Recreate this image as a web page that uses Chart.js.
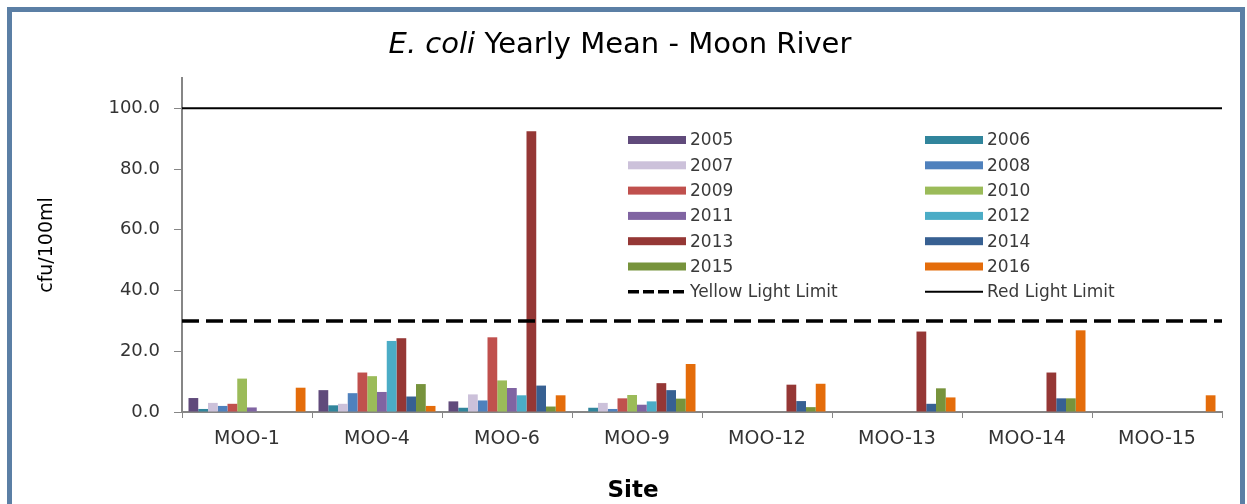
<!DOCTYPE html>
<html>
<head>
<meta charset="utf-8">
<script src="https://cdn.jsdelivr.net/npm/chart.js@4.4.1/dist/chart.umd.min.js"></script>
<style>
  html, body { margin: 0; padding: 0; background: #fff; }
  #wrap { position: relative; width: 1247px; height: 504px; overflow: hidden; }
  #frame { position: absolute; left: 7px; top: 7px; width: 1228px; height: 520px;
           border: 5px solid #5b7fa5; border-bottom: none; }
  .txt { position: absolute; text-align: center; font-family: "DejaVu Sans", sans-serif; color: #000; }
  #title { left: 0; width: 1240px; top: 28px; line-height: 30px; font-size: 29px; }
  #xtitle { left: 533px; width: 200px; top: 476px; line-height: 26px; font-size: 23px; font-weight: bold; }
  canvas { position: absolute; left: 0; top: 0; }
</style>
</head>
<body>
<div id="wrap">
  <div id="frame"></div>
  <canvas id="chart" width="1247" height="504"></canvas>
  <div id="title" class="txt"><i>E. coli</i> Yearly Mean - Moon River</div>
  <div id="xtitle" class="txt">Site</div>
</div>
<script>

const sites = ["MOO-1", "MOO-4", "MOO-6", "MOO-9", "MOO-12", "MOO-13", "MOO-14", "MOO-15"];
const years = ["2005", "2006", "2007", "2008", "2009", "2010", "2011", "2012", "2013", "2014", "2015", "2016"];

// yearly means per site (cfu/100ml), null = no sampling that year
const y2005 = [4.6, 7.2, 3.5, 0, null, null, null, null];
const y2006 = [1.0, 2.2, 1.4, 1.4, null, null, null, null];
const y2007 = [3.0, 2.7, 5.8, 3.0, null, null, null, null];
const y2008 = [2.0, 6.2, 3.8, 1.0, null, null, null, null];
const y2009 = [2.7, 13.0, 24.6, 4.5, null, null, null, null];
const y2010 = [11.0, 11.8, 10.4, 5.6, null, null, null, null];
const y2011 = [1.5, 6.6, 7.9, 2.4, null, null, null, null];
const y2012 = [null, 23.4, 5.5, 3.5, null, null, null, null];
const y2013 = [null, 24.3, 92.5, 9.5, 9.0, 26.5, 13.0, null];
const y2014 = [null, 5.1, 8.7, 7.2, 3.6, 2.7, 4.5, null];
const y2015 = [null, 9.2, 1.8, 4.4, 1.6, 7.8, 4.5, null];
const y2016 = [8.0, 2.0, 5.5, 15.8, 9.3, 4.8, 26.9, 5.5];

const yellowLimit = 30;
const redLimit = 100;

const colors = ["#604a7b", "#31859c", "#ccc1da", "#4f81bd", "#c0504d", "#9bbb59",
                "#8064a2", "#4bacc6", "#953735", "#376092", "#77933c", "#e46c0a"];
const values = [y2005, y2006, y2007, y2008, y2009, y2010, y2011, y2012, y2013, y2014, y2015, y2016];

const font = "'DejaVu Sans', sans-serif";

const datasets = years.map((yr, i) => ({
    label: yr,
    data: values[i],
    backgroundColor: colors[i],
    borderWidth: 0
}));

const limits = [
    { label: "Yellow Light Limit", value: yellowLimit, width: 3.5, dash: [17, 7] },
    { label: "Red Light Limit", value: redLimit, width: 2, dash: [] }
];

// limit lines across the whole plot, placed with the y scale
const limitLines = {
    id: "limitLines",
    afterDatasetsDraw(chart) {
        const c = chart.ctx;
        const area = chart.chartArea;
        c.save();
        limits.forEach(l => {
            const y = chart.scales.y.getPixelForValue(l.value);
            c.strokeStyle = "#000";
            c.lineWidth = l.width;
            c.setLineDash(l.dash);
            c.beginPath();
            c.moveTo(area.left, y);
            c.lineTo(area.right, y);
            c.stroke();
        });
        c.restore();
    }
};

// two-column legend drawn inside the plot, like the Excel original
const boxLegend = {
    id: "boxLegend",
    afterDraw(chart) {
        const c = chart.ctx;
        const items = chart.data.datasets.map(d => ({ label: d.label, color: d.backgroundColor }))
            .concat(limits.map(l => ({ label: l.label, limit: l })));
        const colX = [628, 925];
        const y0 = 140, step = 25.3;
        c.save();
        c.font = "17px " + font;
        c.textBaseline = "middle";
        items.forEach((it, i) => {
            const x = colX[i % 2];
            const y = y0 + Math.floor(i / 2) * step;
            if (it.color) {
                c.fillStyle = it.color;
                c.fillRect(x, y - 4, 58, 8);
            } else {
                c.strokeStyle = "#000";
                c.lineWidth = it.limit.width;
                c.setLineDash(it.limit.dash.length ? [11, 4] : []);
                c.beginPath();
                c.moveTo(x, y);
                c.lineTo(x + 58, y);
                c.stroke();
                c.setLineDash([]);
            }
            c.fillStyle = "#3a3a3a";
            c.fillText(it.label, x + 62, y + 1);
        });
        c.restore();
    }
};

const ctx = document.getElementById("chart").getContext("2d");

const chart = new Chart(ctx, {
    type: "bar",
    data: {
        labels: sites,
        datasets: datasets
    },
    options: {
        responsive: false,
        animation: false,
        datasets: { bar: { categoryPercentage: 0.9, barPercentage: 1.0 } },
        layout: { padding: { top: 78, right: 25, left: 0, bottom: 0 } },
        plugins: {
            legend: { display: false },
            tooltip: { enabled: false }
        },
        scales: {
            x: {
                grid: { drawOnChartArea: false, color: "#868686", tickLength: 6 },
                border: { color: "#868686", width: 2 },
                ticks: { color: "#333", font: { family: font, size: 19 }, padding: 10 },
                afterFit: s => { s.height = 92; }
            },
            y: {
                min: 0,
                max: 110,
                grid: { drawOnChartArea: false, color: "#868686", tickLength: 8 },
                border: { color: "#868686", width: 2 },
                ticks: {
                    stepSize: 20,
                    includeBounds: false,
                    color: "#333",
                    font: { family: font, size: 18 },
                    padding: 14,
                    callback: v => v.toFixed(1)
                },
                title: { display: true, text: "cfu/100ml", color: "#000",
                         font: { family: font, size: 19 }, padding: { top: 36, bottom: 0 } },
                afterFit: s => { s.width = 182; }
            }
        }
    },
    plugins: [limitLines, boxLegend]
});

</script>
</body>
</html>
